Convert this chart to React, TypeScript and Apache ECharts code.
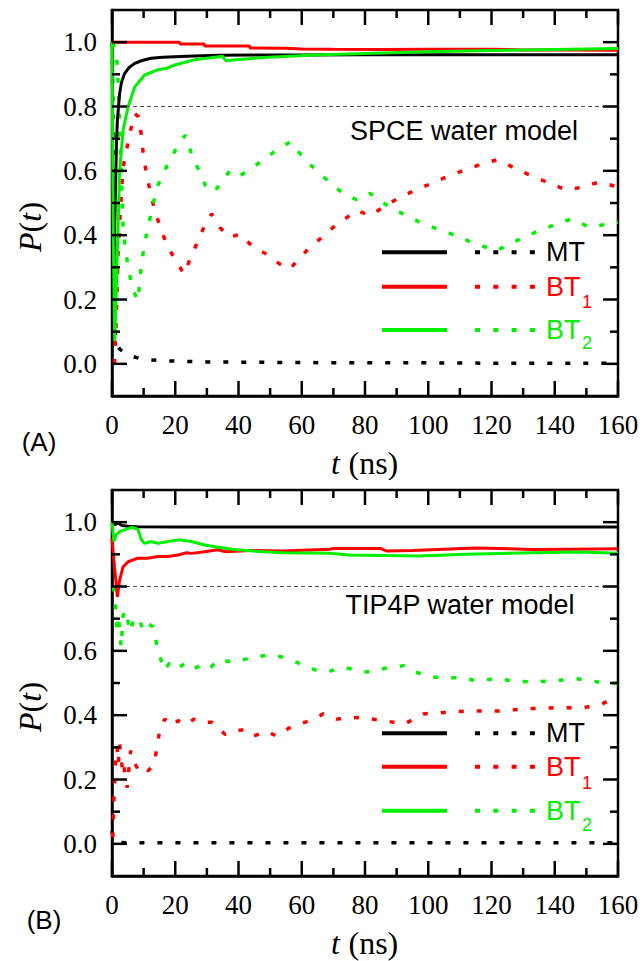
import React, { useEffect, useRef } from 'react';
import * as echarts from 'echarts';

// ---------- axes ----------
const X_MIN = 0;
const X_MAX = 160;
const X_STEP = 20;
const X_MAJOR = [0, 20, 40, 60, 80, 100, 120, 140, 160];
const X_MINOR = [10, 30, 50, 70, 90, 110, 130, 150];
const Y_MIN = -0.1;
const Y_MAX = 1.1;
const Y_MAJOR = [0, 0.2, 0.4, 0.6, 0.8, 1.0];
const Y_MINOR = [0.1, 0.3, 0.5, 0.7, 0.9];
const REF_LINE = 0.8;

// ---------- Panel A (SPCE) ----------
const A_MT_T = [0.6, 1.0, 1.4, 1.7, 2.4, 3.0, 4.0, 5.5, 7.2, 9.5, 12.4, 16, 19.8, 26, 33.5, 45, 60, 80, 100, 120, 140, 160];
const A_MT_P = [0.3, 0.5, 0.68, 0.757, 0.84, 0.875, 0.903, 0.922, 0.934, 0.943, 0.95, 0.953, 0.955, 0.957, 0.959, 0.96, 0.96, 0.961, 0.961, 0.961, 0.961, 0.961];

const A_BT1_T = [0, 21.4, 21.5, 29.2, 29.3, 43.5, 43.6, 55, 60, 70, 85, 100, 120, 130, 145, 160];
const A_BT1_P = [1.0, 1.0, 0.994, 0.994, 0.988, 0.988, 0.982, 0.981, 0.979, 0.978, 0.977, 0.978, 0.978, 0.976, 0.976, 0.975];

const A_BT2_T = [0, 0.4, 0.85, 1.4, 1.9, 2.4, 3.5, 5.1, 7.2, 10.3, 14.5, 17, 19.8, 26, 30, 35, 36, 40, 48, 64, 80, 100, 120, 140, 160];
const A_BT2_P = [1.0, 0.4, 0.07, 0.237, 0.42, 0.6, 0.726, 0.8, 0.861, 0.898, 0.914, 0.918, 0.929, 0.945, 0.95, 0.956, 0.942, 0.946, 0.952, 0.96, 0.965, 0.97, 0.974, 0.977, 0.98];

const A_MTd_T = [0.1, 0.4, 0.7, 1.0, 1.5, 2.5, 4, 6.1, 9, 12, 17, 22, 30, 40, 60, 80, 100, 120, 140, 160];
const A_MTd_P = [1.0, 0.6, 0.25, 0.1, 0.06, 0.045, 0.035, 0.024, 0.016, 0.012, 0.009, 0.008, 0.006, 0.005, 0.004, 0.003, 0.003, 0.002, 0.002, 0.002];

const A_BT1d_T = [0.8, 1.2, 1.6, 1.9, 2.4, 3.0, 3.5, 4.5, 5.6, 7.2, 8.4, 9.3, 9.9, 10.9, 12.2, 13.7, 15.1, 17.2, 19.8, 22.8, 24.9, 27.2, 29.5, 31.5, 34.1, 37.3, 40.5, 44.7, 48.9, 53.1, 56.3, 59.4, 62.6, 66, 70, 77.4, 81.6, 85.8, 91, 98.4, 108, 117.4, 122, 129, 135, 143.8, 149, 154, 160];
const A_BT1d_P = [0.0, 0.1, 0.22, 0.34, 0.435, 0.53, 0.61, 0.66, 0.716, 0.778, 0.768, 0.71, 0.65, 0.59, 0.53, 0.47, 0.43, 0.373, 0.326, 0.279, 0.331, 0.383, 0.435, 0.466, 0.424, 0.393, 0.404, 0.362, 0.341, 0.31, 0.295, 0.33, 0.362, 0.39, 0.425, 0.477, 0.461, 0.487, 0.518, 0.55, 0.59, 0.623, 0.635, 0.6, 0.575, 0.54, 0.55, 0.565, 0.55];

const A_BT2d_T = [0.3, 1.0, 1.7, 2.2, 2.7, 3.5, 4.2, 5.3, 6.3, 8.2, 8.7, 9.3, 10.3, 11.6, 13, 14.5, 17.7, 20.3, 23.2, 25.1, 27.2, 29.5, 32.3, 37.3, 40.5, 44.7, 52, 56.3, 59.4, 62.6, 67, 73, 77.4, 81.6, 85.8, 90, 98.4, 107, 115, 121.6, 128, 135, 145, 151, 160];
const A_BT2d_P = [1.0, 0.97, 0.93, 0.8, 0.654, 0.424, 0.352, 0.295, 0.237, 0.196, 0.248, 0.31, 0.373, 0.435, 0.497, 0.555, 0.622, 0.669, 0.711, 0.654, 0.607, 0.555, 0.534, 0.601, 0.585, 0.612, 0.664, 0.69, 0.654, 0.62, 0.58, 0.53, 0.51, 0.53, 0.5, 0.476, 0.435, 0.405, 0.373, 0.352, 0.383, 0.414, 0.45, 0.425, 0.44];

// ---------- Panel B (TIP4P) ----------
const B_MT_T = [0, 1, 2, 3, 5, 8, 20, 40, 60, 80, 100, 120, 140, 160];
const B_MT_P = [1.0, 0.992, 0.998, 0.99, 0.987, 0.986, 0.985, 0.985, 0.985, 0.985, 0.985, 0.985, 0.985, 0.985];

const B_BT1_T = [0, 0.8, 1.7, 2.4, 3.5, 5.1, 8.2, 11.3, 14.5, 17.7, 20.9, 23.6, 25.1, 29.3, 33.5, 36, 43.5, 54, 68.8, 70, 85, 87, 95, 115, 133, 145, 160];
const B_BT1_P = [0.95, 0.86, 0.768, 0.82, 0.861, 0.877, 0.888, 0.888, 0.893, 0.893, 0.898, 0.905, 0.903, 0.908, 0.914, 0.908, 0.912, 0.91, 0.916, 0.918, 0.918, 0.91, 0.912, 0.92, 0.915, 0.916, 0.917];

const B_BT2_T = [0, 0.6, 1.3, 2.4, 4, 6.1, 8.2, 9.3, 10.3, 12.4, 14.5, 17.7, 20.9, 25.1, 29.3, 33.5, 38.5, 44.7, 54, 68.8, 75, 97, 112, 133, 147, 160];
const B_BT2_P = [1.0, 0.94, 0.96, 0.971, 0.976, 0.984, 0.978, 0.945, 0.934, 0.94, 0.934, 0.94, 0.945, 0.94, 0.929, 0.922, 0.915, 0.91, 0.905, 0.903, 0.898, 0.895, 0.9, 0.905, 0.907, 0.903];

const B_MTd_T = [0, 0.5, 2, 10, 40, 80, 120, 160];
const B_MTd_P = [0.04, 0.01, 0.004, 0.003, 0.003, 0.003, 0.003, 0.003];

const B_BT1d_T = [0.2, 0.4, 0.6, 0.9, 1.2, 1.6, 2.0, 2.4, 2.9, 3.4, 3.8, 4.3, 4.8, 5.4, 5.9, 7.0, 8.2, 9.6, 11.4, 13, 14.3, 15.1, 16.7, 18.8, 20.9, 23.5, 25.9, 28.7, 31.6, 35.8, 38.5, 42, 44.7, 49, 52, 56, 59.4, 62.6, 66.8, 71, 78.5, 86, 92.4, 98.4, 107, 114, 122.5, 131, 140, 149, 155, 157];
const B_BT1d_P = [0.02, 0.08, 0.14, 0.2, 0.27, 0.3, 0.25, 0.31, 0.27, 0.22, 0.24, 0.2, 0.175, 0.24, 0.29, 0.253, 0.232, 0.243, 0.227, 0.243, 0.3, 0.357, 0.388, 0.367, 0.383, 0.37, 0.388, 0.378, 0.378, 0.34, 0.35, 0.355, 0.335, 0.35, 0.335, 0.36, 0.373, 0.383, 0.404, 0.388, 0.393, 0.383, 0.372, 0.404, 0.41, 0.413, 0.413, 0.42, 0.423, 0.423, 0.435, 0.445];

const B_BT2d_T = [0.5, 1.0, 1.4, 1.7, 2.1, 2.5, 2.9, 3.5, 4.5, 5.6, 7.2, 8.7, 9.8, 11.4, 13, 14.3, 14.7, 16.4, 18.2, 20.6, 23.2, 25.6, 28.2, 30.9, 33.3, 38.5, 44.7, 50, 54, 59, 64.5, 68, 73, 80.6, 88, 92.4, 96, 101, 110, 115, 122, 127, 133, 141, 147, 152, 157, 160];
const B_BT2d_P = [0.8, 0.747, 0.685, 0.654, 0.71, 0.648, 0.612, 0.71, 0.726, 0.659, 0.705, 0.695, 0.664, 0.685, 0.674, 0.612, 0.6, 0.539, 0.562, 0.544, 0.562, 0.544, 0.555, 0.544, 0.572, 0.565, 0.58, 0.588, 0.58, 0.562, 0.54, 0.534, 0.549, 0.534, 0.549, 0.554, 0.534, 0.518, 0.516, 0.508, 0.513, 0.506, 0.503, 0.508, 0.513, 0.506, 0.497, 0.5];

// ---------- labels ----------
const LEGEND_NAMES = ['MT', 'BT', 'BT'];
const LEGEND_SUBS = ['', '1', '2'];
const PANEL_TAGS = ['(A)', '(B)'];
const MODEL_LABELS = ['SPCE water model', 'TIP4P water model'];

const COLORS = ['#000000', '#ff0000', '#00f000'];
const SERIF = 'Times New Roman';
const SANS = 'Liberation Sans';

const zip = (t: number[], p: number[]) => t.map((v, i) => [v, p[i]]);

// tick list: [value, kind] kind 0 x-major, 1 x-minor, 2 y-major, 3 y-minor
const TICKS = [
  ...X_MAJOR.map((v) => [v, 0]),
  ...X_MINOR.map((v) => [v, 1]),
  ...Y_MAJOR.map((v) => [v, 2]),
  ...Y_MINOR.map((v) => [v, 3]),
];

// each panel is its own chart (642 x 480)
const PANELS = [
  {
    solid: [zip(A_MT_T, A_MT_P), zip(A_BT1_T, A_BT1_P), zip(A_BT2_T, A_BT2_P)],
    dotted: [zip(A_MTd_T, A_MTd_P), zip(A_BT1d_T, A_BT1d_P), zip(A_BT2d_T, A_BT2d_P)],
    gridTop: 10,
    legendY: [252.3, 286.7, 330],
    subY: [0, 302, 343],
    model: { x: 464, y: 131 },
    tag: { x: 39, y: 442 },
    yTitle: { x: 30, y: 227 },
    xTitle: { x: 365, y: 463 },
  },
  {
    solid: [zip(B_MT_T, B_MT_P), zip(B_BT1_T, B_BT1_P), zip(B_BT2_T, B_BT2_P)],
    dotted: [zip(B_MTd_T, B_MTd_P), zip(B_BT1d_T, B_BT1d_P), zip(B_BT2d_T, B_BT2d_P)],
    gridTop: 10,
    legendY: [253.3, 286.7, 330.7],
    subY: [0, 303, 345],
    model: { x: 460, y: 125 },
    tag: { x: 44, y: 440 },
    yTitle: { x: 30, y: 227 },
    xTitle: { x: 365, y: 463 },
  },
];

const GRID_LEFT = 112;
const GRID_W = 506;
const GRID_H = 386;
const FRAME_W = 2.5;

function renderTick(params: any, api: any) {
  const v = api.value(0);
  const kind = api.value(1);
  const len = kind === 0 || kind === 2 ? 15 : 8;
  const style = { stroke: '#000', lineWidth: FRAME_W };
  if (kind < 2) {
    const b = api.coord([v, Y_MIN]);
    const t = api.coord([v, Y_MAX]);
    return {
      type: 'group',
      children: [
        { type: 'line', shape: { x1: b[0], y1: b[1], x2: b[0], y2: b[1] - len }, style },
        { type: 'line', shape: { x1: t[0], y1: t[1], x2: t[0], y2: t[1] + len }, style },
      ],
    };
  }
  const l = api.coord([X_MIN, v]);
  const r = api.coord([X_MAX, v]);
  return {
    type: 'group',
    children: [
      { type: 'line', shape: { x1: l[0], y1: l[1], x2: l[0] + len, y2: l[1] }, style },
      { type: 'line', shape: { x1: r[0], y1: r[1], x2: r[0] - len, y2: r[1] }, style },
    ],
  };
}

function textEl(x: number, y: number, text: string, fontStyle: string, fontSize: number, fontFamily: string, fill: string, align: string, rotation = 0) {
  return {
    type: 'text',
    x,
    y,
    rotation,
    style: { text, fontStyle, fontSize, fontFamily, fill, align, verticalAlign: 'middle' },
  };
}

function buildOption(gi: number) {
  const pn = PANELS[gi];
  const series: any[] = [];
  const graphic: any[] = [];

  series.push({
    type: 'custom',
    data: TICKS,
    renderItem: renderTick,
    silent: true,
    clip: false,
    z: 5,
  });

  pn.dotted.forEach((d, k) => {
    const s: any = {
      type: 'line',
      data: d,
      showSymbol: false,
      symbol: 'none',
      lineStyle: { color: COLORS[k], width: 3.5, type: [5, 13] },
      z: 2,
    };
    if (k === 0) {
      s.markLine = {
        silent: true,
        symbol: 'none',
        label: { show: false },
        lineStyle: { type: [4, 3], color: '#555', width: 1 },
        data: [{ yAxis: REF_LINE }],
      };
    }
    series.push(s);
  });
  pn.solid.forEach((d, k) => {
    series.push({
      type: 'line',
      data: d,
      showSymbol: false,
      symbol: 'none',
      lineStyle: { color: COLORS[k], width: 3 },
      z: 3,
    });
  });

  pn.legendY.forEach((ly, k) => {
    graphic.push({
      type: 'line',
      shape: { x1: 382, y1: ly, x2: 447, y2: ly },
      style: { stroke: COLORS[k], lineWidth: 4 },
    });
    graphic.push({
      type: 'line',
      shape: { x1: 475, y1: ly, x2: 540, y2: ly },
      style: { stroke: COLORS[k], lineWidth: 4, lineDash: [5, 13.3] },
    });
    graphic.push(textEl(546, ly, LEGEND_NAMES[k], 'normal', 27, SANS, COLORS[k], 'left'));
    if (LEGEND_SUBS[k]) {
      graphic.push(textEl(582, pn.subY[k], LEGEND_SUBS[k], 'normal', 18, SANS, COLORS[k], 'left'));
    }
  });

  graphic.push(textEl(pn.model.x, pn.model.y, MODEL_LABELS[gi], 'normal', 27, SANS, '#000', 'center'));
  graphic.push(textEl(pn.tag.x, pn.tag.y, PANEL_TAGS[gi], 'normal', 26, SANS, '#000', 'center'));

  // y title "P(t)" rotated, pieces from bottom to top
  const yb = pn.yTitle.y + 25;
  const rot = Math.PI / 2;
  graphic.push(textEl(pn.yTitle.x, yb, 'P', 'italic', 32, SERIF, '#000', 'left', rot));
  graphic.push(textEl(pn.yTitle.x, yb - 19.6, '(', 'normal', 32, SERIF, '#000', 'left', rot));
  graphic.push(textEl(pn.yTitle.x, yb - 30.3, 't', 'italic', 32, SERIF, '#000', 'left', rot));
  graphic.push(textEl(pn.yTitle.x, yb - 39.5, ')', 'normal', 32, SERIF, '#000', 'left', rot));

  // x title "t (ns)"
  const xl = pn.xTitle.x - 34;
  graphic.push(textEl(xl, pn.xTitle.y, 't', 'italic', 32, SERIF, '#000', 'left'));
  graphic.push(textEl(xl + 9.5, pn.xTitle.y, ' (ns)', 'normal', 32, SERIF, '#000', 'left'));

  return {
    animation: false,
    grid: {
      left: GRID_LEFT,
      top: pn.gridTop,
      width: GRID_W,
      height: GRID_H,
      show: true,
      borderColor: '#000',
      borderWidth: FRAME_W,
    },
    xAxis: {
      type: 'value',
      min: X_MIN,
      max: X_MAX,
      interval: X_STEP,
      axisLine: { show: true, onZero: false, lineStyle: { color: '#000', width: FRAME_W } },
      axisTick: { show: false },
      splitLine: { show: false },
      axisLabel: { margin: 15, fontFamily: SERIF, fontSize: 27, color: '#000' },
    },
    yAxis: {
      type: 'value',
      min: Y_MIN,
      max: Y_MAX,
      axisLine: { show: true, onZero: false, lineStyle: { color: '#000', width: FRAME_W } },
      axisTick: { show: false },
      splitLine: { show: false },
      axisLabel: {
        customValues: Y_MAJOR,
        formatter: (v: number) => v.toFixed(1),
        margin: 15,
        fontFamily: SERIF,
        fontSize: 27,
        color: '#000',
      },
    },
    series,
    graphic,
  };
}

function Panel({ index, top, height }: { index: number; top: number; height: number }) {
  const ref = useRef<HTMLDivElement>(null);
  useEffect(() => {
    if (!ref.current) return;
    const chart = echarts.init(ref.current, undefined, { renderer: 'svg' });
    chart.setOption(buildOption(index) as any);
    return () => chart.dispose();
  }, [index]);
  return <div ref={ref} style={{ position: 'absolute', left: 0, top, width: 642, height }} />;
}

export default function App() {
  return (
    <div style={{ position: 'fixed', left: 0, top: 0, width: 642, height: 961, background: '#fff' }}>
      <Panel index={0} top={0} height={480} />
      <Panel index={1} top={480} height={481} />
    </div>
  );
}
